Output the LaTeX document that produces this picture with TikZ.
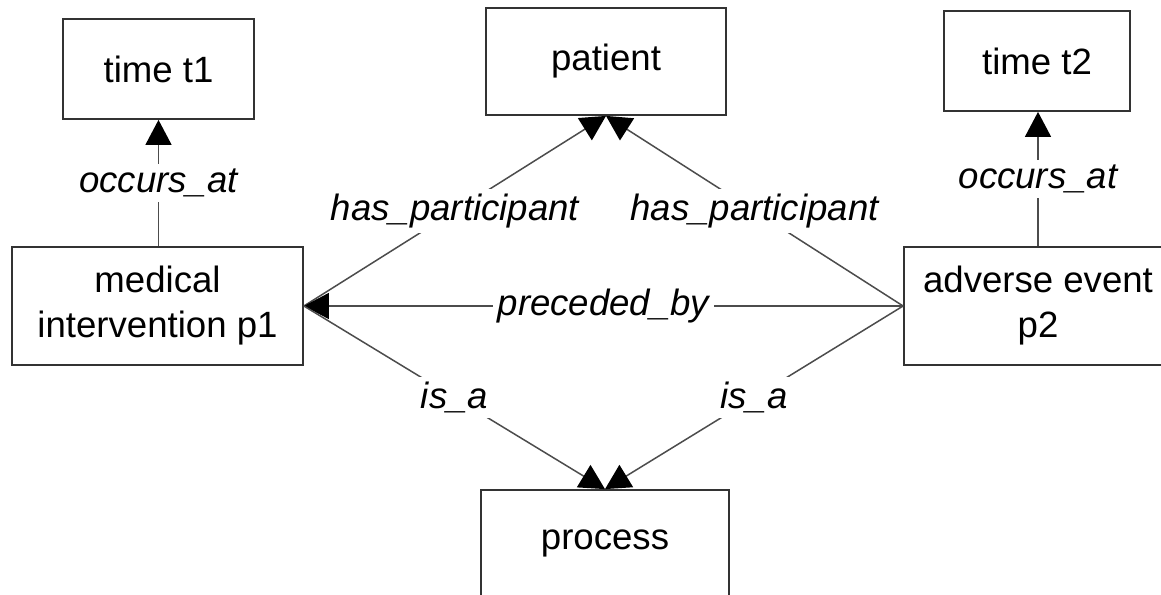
\documentclass[tikz,border=0pt]{standalone}
\usepackage{fontspec}
\setmainfont{Liberation Sans}
\usetikzlibrary{arrows.meta}
\tikzset{
  entity/.style={draw=black!80,line width=0.9pt,fill=white,inner sep=0pt,align=center,
    font=\fontsize{18.3}{22.5}\selectfont},
  rel/.style={draw=black!70,line width=0.75pt,-{Triangle[length=12.5pt,width=13pt,color=black]}},
  rellabel/.style={fill=white,inner sep=2.5pt,font=\fontsize{18.3}{22.5}\selectfont\itshape},
}

\begin{document}
\begin{tikzpicture}[x=0.5pt,y=-0.5pt]
        \useasboundingbox (0,0) rectangle (1161,594);
        % boxes
        \node[entity,minimum width=95.5pt,minimum height=50pt] (t1) at (158.5,69) {time t1};
        \node[entity,minimum width=120pt,minimum height=53.5pt] (patient) at (606,61.5) {patient};
        \node[entity,minimum width=93pt,minimum height=50pt] (t2) at (1037,61) {time t2};
        \node[entity,minimum width=145.5pt,minimum height=59pt] (med) at (157.5,306) {medical\\intervention p1};
        \node[entity,minimum width=134pt,minimum height=59pt] (adv) at (1038,306) {adverse event\\p2};
        \node[entity,minimum width=124pt,minimum height=53.5pt] (process) at (605,543.5) {process};
        % relations
        \draw[rel] (t1.south |- med.north) -- node[rellabel] {occurs\_at} (t1.south);
        \draw[rel] (adv.north) -- node[rellabel] {occurs\_at} (adv.north |- t2.south);
        \draw[rel] (med.east) -- node[rellabel] {has\_participant} (patient.south);
        \draw[rel] (adv.west) -- node[rellabel] {has\_participant} (patient.south);
        \draw[rel] (adv.west) -- node[rellabel] {preceded\_by} (med.east);
        \draw[rel] (med.east) -- node[rellabel] {is\_a} (process.north);
        \draw[rel] (adv.west) -- node[rellabel] {is\_a} (process.north);
\end{tikzpicture}
\end{document}
